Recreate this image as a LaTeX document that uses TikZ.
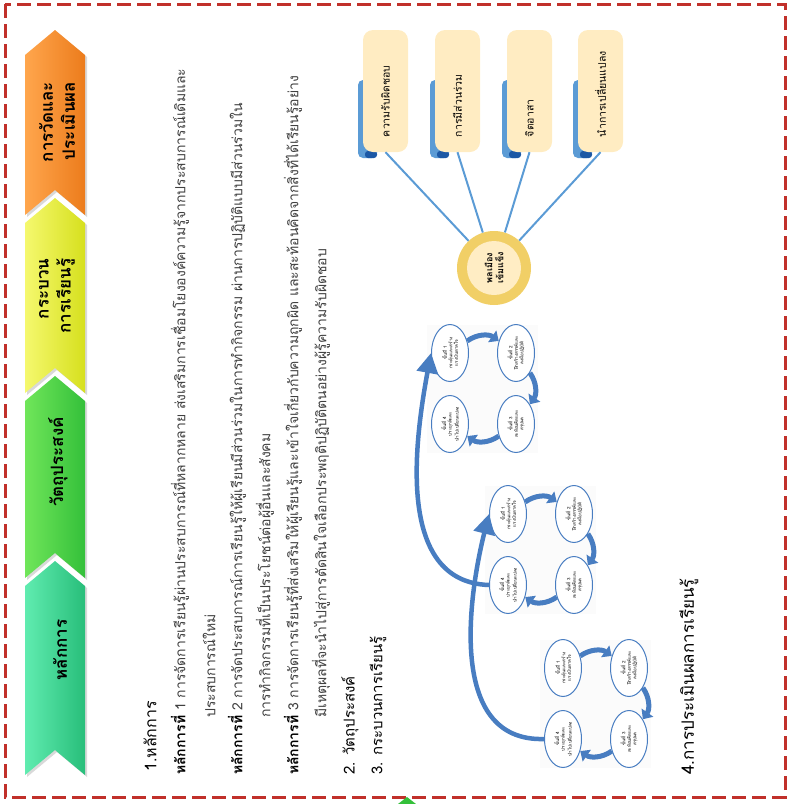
\documentclass[tikz,border=0pt]{standalone}
\usepackage{fontspec}
\newfontfamily\thaifont[Script=Thai]{Loma}
\usetikzlibrary{shapes.geometric, arrows.meta, positioning}

\definecolor{framered}{RGB}{193,48,42}
\definecolor{linkblue}{RGB}{91,155,213}
\definecolor{tabdark}{RGB}{28,88,165}
\definecolor{cycblue}{RGB}{72,125,193}
\definecolor{cream}{RGB}{255,236,194}
\definecolor{gold}{RGB}{241,207,102}
\definecolor{hubcream}{RGB}{255,237,196}
\definecolor{bodygray}{RGB}{64,64,64}
\definecolor{orA}{RGB}{255,166,77}
\definecolor{orB}{RGB}{236,124,28}
\definecolor{yeA}{RGB}{245,248,110}
\definecolor{yeB}{RGB}{214,224,30}
\definecolor{grA}{RGB}{112,230,90}
\definecolor{grB}{RGB}{52,192,58}
\definecolor{tlA}{RGB}{96,236,176}
\definecolor{tlB}{RGB}{40,190,122}

\tikzset{
  body/.style={rotate=90, anchor=west, inner sep=0pt, text=bodygray,
    font=\thaifont\fontsize{14}{16}\selectfont},
  head/.style={rotate=90, anchor=west, inner sep=0pt,
    font=\thaifont\fontsize{15}{18}\selectfont},
  chevtext/.style={rotate=90, align=right, inner sep=0pt,
    font=\thaifont\fontsize{17}{22}\selectfont\bfseries},
  valuebox/.style={rotate=90, fill=cream, rounded corners=10pt,
    minimum width=122pt, minimum height=45pt, text width=92pt,
    inner xsep=15pt, align=left, font=\thaifont\fontsize{10.5}{12}\selectfont},
  stepnode/.style={ellipse, draw=cycblue, line width=1pt, fill=white,
    rotate=90, minimum width=57pt, minimum height=37pt, inner sep=0pt,
    align=center, font=\thaifont\fontsize{4.5}{5.5}\selectfont},
  cycarrow/.style={cycblue, line width=5pt, -{Triangle[length=8pt,width=14pt]}},
  bigarrow/.style={cycblue, line width=4.5pt, -{Triangle[length=20pt,width=21pt]}},
}

\begin{document}
\begin{tikzpicture}[x=1pt, y=-1pt]
\useasboundingbox (0,0) rectangle (790,804);
\draw[framered, line width=3pt, dash pattern=on 14pt off 6pt] (5,4) rectangle (785,797);
\fill[grB] (398,804) -- (407,797) -- (416,804) -- cycle;

\foreach \t/\b/\ca/\cb in {30/215/orA/orB, 198/393/yeA/yeB, 376/578/grA/grB, 561/775/tlA/tlB} {
  \fill[black!15] (27,\t+27) -- (57,\t+2) -- (87,\t+27) -- (87,\b+2) -- (57,\b-23) -- (27,\b+2) -- cycle;
  \shade[left color=\ca, right color=\cb] (25,\t+25) -- (55,\t) -- (85,\t+25) -- (85,\b) -- (55,\b-25) -- (25,\b) -- cycle;
}
\node (ch1) [chevtext] at (57,122) {การวัดและ\\ประเมินผล};
\node (ch2) [chevtext] at (57,296) {กระบวน\\การเรียนรู้};
\node (ch3) [chevtext] at (58,462) {วัตถุประสงค์};
\node (ch4) [chevtext] at (60,650) {หลักการ};

\node (h1) [head, font=\thaifont\fontsize{16}{18}\selectfont] at (150,772) {1.หลักการ};
\node (p1a) [body] at (180,775) {\textbf{\color{black}หลักการที่} 1 การจัดการเรียนรู้ผ่านประสบการณ์ที่หลากหลาย ส่งเสริมการเชื่อมโยงองค์ความรู้จากประสบการณ์เดิมและ};
\node (p1b) [body] at (209,718) {ประสบการณ์ใหม่};
\node (p2a) [body] at (237,775) {\textbf{\color{black}หลักการที่} 2 การจัดประสบการณ์การเรียนรู้ให้ผู้เรียนมีส่วนร่วมในการทำกิจกรรม ผ่านการปฏิบัติแบบมีส่วนร่วมใน};
\node (p2b) [body] at (265,718) {การทำกิจกรรมที่เป็นประโยชน์ต่อผู้อื่นและสังคม};
\node (p3a) [body] at (293,775) {\textbf{\color{black}หลักการที่} 3 การจัดการเรียนรู้ที่ส่งเสริมให้ผู้เรียนรู้และเข้าใจเกี่ยวกับความถูกผิด และสะท้อนคิดจากสิ่งที่ได้เรียนรู้อย่าง};
\node (p3b) [body] at (321,718) {มีเหตุผลที่จะนำไปสู่การตัดสินใจเลือกประพฤติปฏิบัติตนอย่างผู้รู้ความรับผิดชอบ};
\node (h2) [head] at (350,775) {2. วัตถุประสงค์};
\node (h3) [head] at (378,775) {3. กระบวนการเรียนรู้};
\node (h4) [head, font=\thaifont\fontsize{17}{20}\selectfont] at (689,775) {4.การประเมินผลการเรียนรู้};

\foreach \i/\xl/\txt in {1/363/ความรับผิดชอบ, 2/435/การมีส่วนร่วม, 3/507/จิตอาสา, 4/578/นำการเปลี่ยนแปลง} {
  \fill[linkblue, rounded corners=5pt] (\xl-5,158) -- (\xl-5,80) -- (\xl+14,80) -- (\xl+14,158) -- cycle;
  \fill[tabdark, rounded corners=3pt] (\xl+2,158) -- (\xl+2,151) -- (\xl+14,151) -- (\xl+14,158) -- cycle;
  \node (v\i) [valuebox] at (\xl+22.5,91) {\txt};
}
\node (hub) [circle, fill=gold, minimum size=74pt, inner sep=0pt] at (494,268) {};
\node (hubtxt) [circle, fill=hubcream, minimum size=54pt, inner sep=0pt, rotate=90, align=center,
  font=\thaifont\fontsize{9}{11}\selectfont\bfseries] at (hub) {พลเมือง\\เข้มแข็ง};
\foreach \i in {1,...,4}
  \draw[linkblue, line width=2pt] (v\i.west) -- (hub);

\foreach \g/\gx/\gy in {a/450/353, b/508/514, c/563/668} {
  \fill[gray!3] (\gx-23,\gy-28) rectangle (\gx+88,\gy+100);
  \node (st-\g-1) [stepnode] at (\gx,\gy) {ขั้นที่ 1\\กระตุ้นและสร้าง\\แรงบันดาลใจ};
  \node (st-\g-2) [stepnode] at (\gx+66,\gy) {ขั้นที่ 2\\ฝึกสร้างสรรค์และ\\ลงมือปฏิบัติ};
  \node (st-\g-3) [stepnode] at (\gx+66,\gy+71) {ขั้นที่ 3\\สะท้อนคิดและ\\สรุปผล};
  \node (st-\g-4) [stepnode] at (\gx,\gy+71) {ขั้นที่ 4\\ประยุกต์และ\\นำไปเปลี่ยนแปลง};
  \draw[cycarrow] (st-\g-1) to[bend left=35] (st-\g-2);
  \draw[cycarrow] (st-\g-2) to[bend left=35] (st-\g-3);
  \draw[cycarrow] (st-\g-3) to[bend left=35] (st-\g-4);
}
\draw[bigarrow] (st-c-4.north) .. controls (445,742) and (470,590) .. (st-b-1.north);
\draw[bigarrow] (st-b-4.north) .. controls (395,582) and (415,440) .. (st-a-1.north);
\end{tikzpicture}
\end{document}
